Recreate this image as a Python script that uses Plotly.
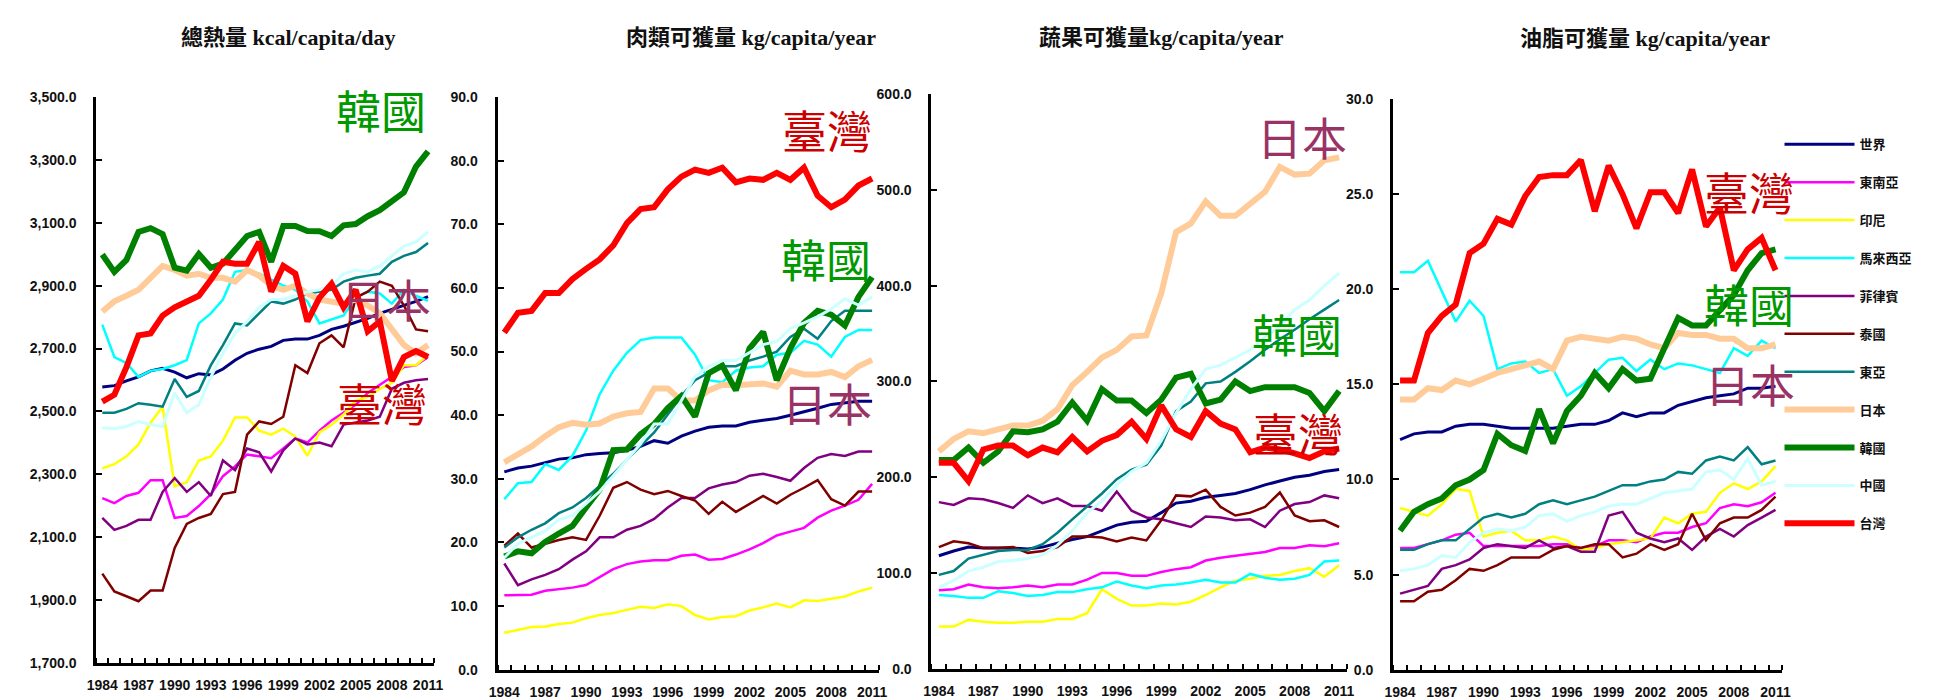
import plotly.graph_objects as go

years = list(range(1984, 2012))
year_labels = [str(y) if (y - 1984) % 3 == 0 else "" for y in years]

names = ["世界", "東南亞", "印尼", "馬來西亞", "菲律賓", "泰國", "東亞", "日本", "韓國", "中國", "台灣"]
colors = ["#000080", "#ff00ff", "#ffff00", "#00ffff", "#800080", "#800000",
          "#008080", "#ffcc99", "#008000", "#ccffff", "#ff0000"]
widths = [3, 2.5, 2.5, 2.5, 2.5, 2.5, 2.5, 6, 6, 3, 6]

# ---- Panel 1: total calories kcal/capita/day ----
kcal_world = [2578, 2582, 2597, 2610, 2629, 2637, 2625, 2607, 2620, 2616, 2635, 2663, 2685, 2698, 2707, 2726, 2730, 2730, 2742, 2761, 2771, 2784, 2796, 2812, 2824, 2837, 2850, 2865]
kcal_sea = [2224, 2208, 2231, 2241, 2281, 2281, 2161, 2167, 2199, 2237, 2294, 2325, 2363, 2357, 2351, 2382, 2414, 2401, 2439, 2471, 2496, 2521, 2559, 2584, 2610, 2641, 2647, 2673]
kcal_idn = [2319, 2332, 2357, 2395, 2464, 2515, 2262, 2275, 2344, 2357, 2407, 2481, 2481, 2439, 2426, 2445, 2420, 2359, 2433, 2458, 2490, 2534, 2546, 2572, 2591, 2647, 2647, 2679]
kcal_mys = [2776, 2673, 2654, 2610, 2629, 2635, 2647, 2663, 2780, 2812, 2856, 2944, 2950, 2938, 2919, 2900, 2887, 2850, 2780, 2793, 2805, 2862, 2881, 2875, 2843, 2887, 2868, 2852]
kcal_phl = [2161, 2123, 2136, 2155, 2155, 2244, 2288, 2244, 2275, 2231, 2344, 2313, 2382, 2370, 2309, 2376, 2414, 2395, 2401, 2389, 2458, 2464, 2471, 2483, 2572, 2591, 2599, 2603]
kcal_tha = [1984, 1927, 1912, 1896, 1930, 1930, 2066, 2142, 2161, 2174, 2237, 2244, 2426, 2468, 2460, 2483, 2647, 2622, 2717, 2742, 2704, 2862, 2881, 2913, 2900, 2837, 2761, 2755]
kcal_eas = [2496, 2496, 2508, 2526, 2521, 2515, 2603, 2546, 2565, 2647, 2711, 2780, 2774, 2812, 2850, 2843, 2856, 2875, 2881, 2887, 2913, 2925, 2932, 2938, 2976, 2995, 3007, 3036]
kcal_jpn = [2818, 2850, 2868, 2887, 2925, 2963, 2950, 2932, 2938, 2925, 2925, 2913, 2950, 2932, 2900, 2887, 2900, 2875, 2856, 2850, 2843, 2856, 2837, 2812, 2761, 2711, 2685, 2711]
kcal_kor = [2999, 2944, 2982, 3071, 3083, 3064, 2957, 2948, 3001, 2957, 2970, 3014, 3058, 3071, 2976, 3090, 3090, 3074, 3073, 3058, 3092, 3096, 3121, 3140, 3168, 3197, 3279, 3327]
kcal_chn = [2448, 2445, 2452, 2468, 2458, 2452, 2559, 2496, 2521, 2610, 2685, 2748, 2786, 2831, 2856, 2856, 2868, 2881, 2887, 2900, 2938, 2950, 2944, 2963, 2995, 3026, 3039, 3071]
kcal_twn = [2531, 2553, 2641, 2742, 2748, 2805, 2831, 2850, 2868, 2919, 2976, 2970, 2970, 3039, 2881, 2963, 2938, 2786, 2862, 2906, 2831, 2887, 2755, 2786, 2597, 2673, 2692, 2673]

# ---- Panel 2: meat kg/capita/year ----
meat_world = [31.1, 31.7, 32.0, 32.6, 33.1, 33.3, 33.8, 34.0, 34.1, 34.5, 35.1, 36.0, 35.6, 36.7, 37.5, 38.1, 38.3, 38.3, 38.9, 39.2, 39.5, 40.0, 40.5, 41.1, 41.7, 42.0, 42.2, 42.2]
meat_sea = [11.7, 11.8, 11.8, 12.4, 12.6, 12.9, 13.3, 14.5, 15.8, 16.6, 17.0, 17.2, 17.2, 17.9, 18.1, 17.3, 17.4, 18.1, 18.9, 19.9, 21.1, 21.7, 22.3, 23.9, 25.0, 25.8, 26.7, 29.2]
meat_idn = [5.8, 6.3, 6.7, 6.8, 7.2, 7.4, 8.1, 8.6, 8.9, 9.4, 9.9, 9.7, 10.3, 10.0, 8.6, 7.9, 8.3, 8.4, 9.3, 9.8, 10.4, 9.8, 10.9, 10.8, 11.2, 11.5, 12.3, 12.9]
meat_mys = [26.8, 29.3, 29.5, 32.3, 31.4, 33.6, 37.6, 43.3, 47.0, 49.8, 51.8, 52.2, 52.2, 52.2, 49.5, 45.5, 45.2, 47.0, 47.5, 47.7, 49.5, 49.8, 51.7, 51.1, 49.2, 52.3, 53.4, 53.4]
meat_phl = [16.7, 13.3, 14.2, 14.9, 15.8, 17.3, 18.6, 20.8, 20.8, 22.0, 22.6, 23.7, 25.5, 27.0, 27.0, 28.5, 29.1, 29.5, 30.5, 30.8, 30.3, 29.7, 31.7, 33.3, 33.9, 33.6, 34.3, 34.3]
meat_tha = [19.5, 21.4, 19.2, 19.8, 20.4, 20.8, 20.4, 24.2, 28.6, 29.5, 28.3, 27.6, 28.1, 27.3, 26.6, 24.5, 26.4, 24.8, 26.1, 27.3, 26.1, 27.5, 28.6, 29.8, 26.8, 25.8, 28.0, 28.0]
meat_eas = [19.2, 20.8, 22.0, 23.0, 24.6, 25.5, 27.0, 28.9, 30.8, 33.0, 35.1, 37.3, 40.1, 43.0, 45.5, 46.7, 47.7, 47.7, 48.6, 49.2, 50.0, 52.3, 53.6, 52.0, 54.8, 56.4, 56.4, 56.4]
meat_jpn = [32.6, 33.9, 35.1, 36.7, 38.1, 38.8, 38.5, 38.7, 39.8, 40.3, 40.5, 44.2, 44.2, 42.3, 42.3, 43.9, 44.8, 44.7, 44.8, 45.0, 44.5, 47.0, 46.4, 46.4, 46.8, 46.0, 47.7, 48.7]
meat_kor = [17.8, 18.6, 18.3, 20.1, 21.4, 22.6, 25.5, 28.3, 34.5, 34.6, 37.0, 38.6, 41.1, 43.0, 39.8, 46.6, 47.8, 43.9, 50.5, 53.1, 45.5, 50.5, 54.5, 56.4, 55.8, 54.1, 58.6, 61.7]
meat_chn = [17.6, 19.8, 20.8, 21.8, 23.6, 24.2, 26.1, 28.0, 30.5, 33.0, 35.5, 38.6, 38.6, 42.3, 46.1, 47.7, 48.6, 48.6, 49.8, 51.1, 51.6, 53.6, 54.5, 55.5, 56.7, 58.3, 57.3, 58.6]
meat_twn = [53.0, 56.1, 56.4, 59.2, 59.2, 61.4, 63.0, 64.5, 66.7, 70.2, 72.4, 72.7, 75.5, 77.5, 78.6, 78.1, 78.9, 76.6, 77.2, 77.0, 78.1, 77.0, 78.9, 74.5, 72.7, 73.9, 76.1, 77.2]

# ---- Panel 3: vegetables & fruit kg/capita/year ----
veg_world = [118, 123, 127, 126, 126, 126, 125, 127, 131, 135, 138, 144, 150, 153, 154, 163, 173, 175, 179, 181, 183, 187, 192, 196, 200, 202, 206, 208]
veg_sea = [82, 83, 88, 85, 84, 85, 87, 85, 88, 88, 93, 100, 100, 97, 97, 101, 104, 106, 113, 116, 118, 120, 122, 126, 126, 129, 128, 131]
veg_idn = [44, 44, 51, 49, 48, 48, 49, 49, 52, 52, 58, 83, 73, 66, 66, 68, 67, 70, 77, 85, 92, 94, 97, 98, 102, 105, 96, 108]
veg_mys = [77, 76, 74, 74, 81, 79, 76, 77, 80, 80, 83, 85, 91, 87, 84, 87, 88, 90, 93, 90, 90, 99, 95, 93, 94, 98, 112, 113]
veg_phl = [174, 171, 178, 177, 173, 168, 181, 173, 178, 170, 170, 165, 185, 165, 158, 156, 152, 148, 159, 158, 155, 156, 148, 165, 172, 174, 181, 178]
veg_tha = [127, 133, 131, 126, 126, 127, 121, 123, 127, 138, 138, 137, 133, 137, 134, 155, 181, 180, 187, 169, 160, 163, 169, 184, 160, 154, 155, 148]
veg_eas = [98, 102, 115, 119, 123, 124, 124, 130, 142, 156, 169, 183, 198, 208, 213, 233, 269, 279, 298, 300, 310, 321, 333, 344, 354, 365, 375, 385]
veg_jpn = [227, 240, 248, 246, 250, 254, 254, 259, 271, 296, 310, 325, 333, 347, 348, 392, 456, 465, 488, 473, 473, 485, 498, 524, 516, 517, 531, 534]
veg_kor = [218, 218, 231, 215, 227, 248, 247, 250, 258, 278, 259, 292, 280, 280, 267, 281, 304, 308, 277, 281, 300, 290, 294, 294, 294, 288, 269, 290]
veg_chn = [85, 92, 102, 106, 112, 113, 115, 119, 129, 144, 163, 175, 192, 206, 215, 238, 267, 292, 313, 317, 325, 333, 346, 358, 375, 385, 400, 413]
veg_twn = [215, 215, 196, 229, 233, 233, 223, 231, 226, 242, 227, 238, 244, 258, 240, 275, 250, 242, 269, 256, 250, 226, 231, 229, 225, 220, 227, 230]

# ---- Panel 4: oils & fats kg/capita/year ----
oil_world = [12.1, 12.4, 12.5, 12.5, 12.8, 12.9, 12.9, 12.8, 12.7, 12.7, 12.7, 12.7, 12.8, 12.9, 12.9, 13.1, 13.5, 13.3, 13.5, 13.5, 13.9, 14.1, 14.3, 14.4, 14.5, 14.8, 14.8, 14.9]
oil_sea = [6.4, 6.4, 6.6, 6.8, 7.1, 7.2, 6.5, 6.5, 6.5, 6.5, 6.5, 6.6, 6.6, 6.4, 6.5, 6.8, 6.8, 6.7, 7.0, 7.2, 7.2, 7.5, 7.7, 8.5, 8.7, 8.6, 8.8, 9.3]
oil_idn = [8.5, 8.3, 8.1, 8.7, 9.5, 9.4, 7.0, 7.2, 7.3, 6.8, 6.8, 7.0, 6.8, 6.3, 6.4, 6.6, 6.7, 6.8, 6.9, 8.0, 7.7, 8.2, 8.3, 9.3, 9.8, 9.5, 9.9, 10.7]
oil_mys = [20.9, 20.9, 21.5, 19.9, 18.3, 19.4, 18.6, 15.8, 16.1, 16.2, 15.6, 15.8, 14.4, 14.9, 15.6, 16.3, 16.4, 15.7, 16.3, 15.8, 16.1, 16.0, 15.8, 15.6, 16.9, 16.5, 17.3, 16.9]
oil_phl = [4.0, 4.2, 4.4, 5.3, 5.5, 5.8, 6.4, 6.6, 6.5, 6.4, 6.8, 6.4, 6.5, 6.2, 6.2, 8.1, 8.3, 7.2, 6.9, 6.7, 6.9, 6.3, 7.0, 7.4, 7.0, 7.6, 8.0, 8.4]
oil_tha = [3.6, 3.6, 4.1, 4.2, 4.7, 5.3, 5.2, 5.5, 5.9, 5.9, 5.9, 6.3, 6.5, 6.4, 6.6, 6.6, 5.9, 6.1, 6.6, 6.3, 6.6, 8.2, 6.8, 7.7, 8.0, 8.0, 8.4, 9.1]
oil_eas = [6.3, 6.3, 6.6, 6.8, 6.8, 7.4, 8.0, 8.2, 8.0, 8.2, 8.7, 8.9, 8.7, 8.9, 9.1, 9.4, 9.7, 9.7, 9.9, 10.0, 10.4, 10.3, 11.0, 11.2, 11.0, 11.7, 10.8, 11.0]
oil_jpn = [14.2, 14.2, 14.8, 14.7, 15.2, 15.0, 15.3, 15.6, 15.8, 16.0, 16.2, 15.8, 17.3, 17.5, 17.4, 17.3, 17.5, 17.4, 17.1, 16.9, 17.7, 17.6, 17.6, 17.4, 17.4, 16.9, 16.9, 17.1]
oil_kor = [7.3, 8.3, 8.7, 9.0, 9.7, 10.0, 10.5, 12.4, 11.8, 11.5, 13.7, 11.9, 13.6, 14.4, 15.6, 14.8, 15.8, 15.2, 15.3, 16.9, 18.5, 18.1, 18.1, 18.9, 19.7, 21.0, 21.9, 22.1]
oil_chn = [5.2, 5.3, 5.5, 6.0, 5.9, 6.7, 7.2, 7.4, 7.3, 7.5, 8.1, 8.2, 7.8, 8.1, 8.3, 8.6, 8.7, 8.7, 9.0, 9.3, 9.4, 9.5, 10.4, 10.5, 10.0, 11.1, 9.7, 9.9]
oil_twn = [15.2, 15.2, 17.7, 18.6, 19.2, 21.9, 22.4, 23.7, 23.4, 24.9, 25.9, 26.0, 26.0, 26.8, 24.1, 26.5, 25.0, 23.2, 25.1, 25.1, 24.0, 26.3, 23.3, 24.3, 21.0, 22.1, 22.7, 21.0]

panels = [
    [kcal_world, kcal_sea, kcal_idn, kcal_mys, kcal_phl, kcal_tha, kcal_eas, kcal_jpn, kcal_kor, kcal_chn, kcal_twn],
    [meat_world, meat_sea, meat_idn, meat_mys, meat_phl, meat_tha, meat_eas, meat_jpn, meat_kor, meat_chn, meat_twn],
    [veg_world, veg_sea, veg_idn, veg_mys, veg_phl, veg_tha, veg_eas, veg_jpn, veg_kor, veg_chn, veg_twn],
    [oil_world, oil_sea, oil_idn, oil_mys, oil_phl, oil_tha, oil_eas, oil_jpn, oil_kor, oil_chn, oil_twn],
]
titles = ["總熱量 kcal/capita/day", "肉類可獲量 kg/capita/year", "蔬果可獲量kg/capita/year", "油脂可獲量 kg/capita/year"]
y_ranges = [[1700, 3500], [0, 90], [0, 600], [0, 30]]
y_dticks = [200, 10, 100, 5]
y_formats = [",.1f", ".1f", ".1f", ".1f"]

W, H = 1941, 700
# plot boxes in pixels (left, right, top, bottom)
boxes = [(80, 421, 83, 662), (485, 870, 83, 669), (923, 1342, 80, 668), (1389, 1782, 85, 669)]
title_pos = [(274, 22), (741, 22), (1155, 22), (1643, 23)]

fig = go.Figure()
for p, series in enumerate(panels):
    ax = "" if p == 0 else str(p + 1)
    for i, vals in enumerate(series):
        fig.add_trace(go.Scatter(
            x=years, y=vals, mode="lines", name=names[i],
            line=dict(color=colors[i], width=widths[i]),
            xaxis="x" + ax, yaxis="y" + ax,
            legendgroup=names[i], showlegend=(p == 3),
            hovertemplate=names[i] + " %{x}: %{y}<extra></extra>",
        ))
    # empty helper trace so the overlay tick-only axis is instantiated
    fig.add_trace(go.Scatter(x=[], y=[], xaxis="x" + ax, yaxis="y" + str(p + 5),
                             showlegend=False, hoverinfo="skip"))

tick_font = dict(family="Liberation Sans, Arial, sans-serif", size=14, color="#111111", weight="bold")
layout = dict(
    width=W, height=H, margin=dict(l=0, r=0, t=0, b=0),
    paper_bgcolor="white", plot_bgcolor="white",
    showlegend=True,
    legend=dict(x=1779 / W, xanchor="left", y=1 - 116 / H, yanchor="top",
                tracegroupgap=18, itemwidth=70, bgcolor="rgba(0,0,0,0)",
                font=dict(family="Noto Sans CJK TC", size=13, color="#111111", weight="bold")),
    annotations=[],
)
for p in range(4):
    l, r, t, b = boxes[p]
    ax = "" if p == 0 else str(p + 1)
    layout["xaxis" + ax] = dict(
        domain=[l / W, r / W], anchor="y" + ax, range=[1983.5, 2011.5],
        tickmode="array", tickvals=years, ticktext=year_labels,
        ticks="outside", ticklen=7, tickcolor="rgba(0,0,0,0)",
        showline=True, linecolor="black", linewidth=3, showgrid=False, zeroline=False,
        tickfont=tick_font, tickangle=0,
        minor=dict(tick0=1983.5, dtick=1, ticks="inside", ticklen=5, tickwidth=2,
                   tickcolor="black", showgrid=False),
    )
    # main y axis: labels pushed away from the line by transparent outside ticks
    layout["yaxis" + ax] = dict(
        domain=[1 - b / H, 1 - t / H], anchor="x" + ax, range=y_ranges[p],
        tick0=y_ranges[p][0], dtick=y_dticks[p], tickformat=y_formats[p],
        ticks="outside", ticklen=14, tickcolor="rgba(0,0,0,0)",
        showline=True, linecolor="black", linewidth=3, showgrid=False, zeroline=False,
        tickfont=tick_font,
    )
    # overlay y axis: visible inside tick marks only
    layout["yaxis" + str(p + 5)] = dict(
        overlaying="y" + ax, anchor="x" + ax, side="left", range=y_ranges[p],
        tick0=y_ranges[p][0], dtick=y_dticks[p], showticklabels=False,
        ticks="inside", ticklen=6, tickwidth=2, tickcolor="black",
        showline=False, showgrid=False, zeroline=False,
    )
    tx, ty = title_pos[p]
    layout["annotations"].append(dict(
        x=tx / W, y=1 - ty / H, xref="paper", yref="paper", text="<b>" + titles[p] + "</b>",
        showarrow=False, xanchor="center", yanchor="middle",
        font=dict(family="Liberation Serif, Noto Sans CJK TC", size=22, color="#111111"),
    ))

big_labels = [
    ("韓國", 367, 96, "#009900"), ("日本", 372, 289, "#993366"), ("臺灣", 368, 396, "#cc0000"),
    ("臺灣", 818, 116, "#cc0000"), ("韓國", 817, 248, "#009900"), ("日本", 818, 396, "#993366"),
    ("日本", 1297, 123, "#993366"), ("韓國", 1292, 325, "#009900"), ("臺灣", 1293, 426, "#cc0000"),
    ("臺灣", 1748, 180, "#cc0000"), ("韓國", 1748, 294, "#009900"), ("日本", 1749, 376, "#993366"),
]
for txt, x, y, c in big_labels:
    layout["annotations"].append(dict(
        x=x / W, y=1 - y / H, xref="paper", yref="paper", text=txt, showarrow=False,
        xanchor="center", yanchor="middle",
        font=dict(family="Noto Sans CJK TC", size=45, color=c),
    ))

fig.update_layout(**layout)
fig.write_html("out.html")
